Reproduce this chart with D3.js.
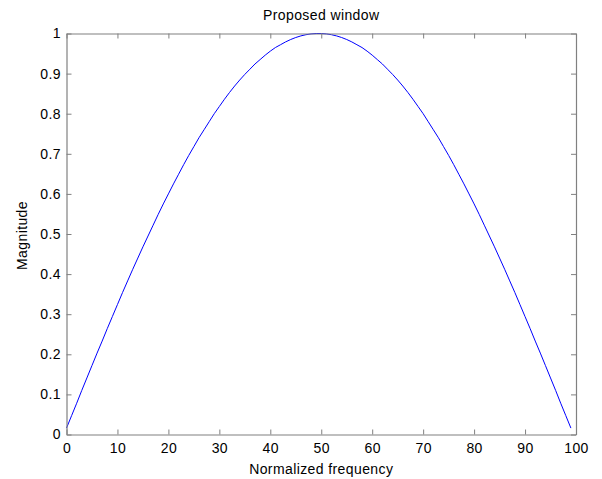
<!DOCTYPE html>
<html>
<head>
<meta charset="utf-8">
<script src="https://cdn.jsdelivr.net/npm/d3@7"></script>
<style>
  html, body { margin: 0; padding: 0; background: #fff; }
  svg { display: block; }
  text { font-family: "Liberation Sans", Arial, sans-serif; fill: #000; letter-spacing: 0.4px; }
</style>
</head>
<body>
<svg id="chart" width="602" height="479"></svg>
<script>
// Sample index (0..99) and window magnitude at each sample
const sampleIndex = Array.from({ length: 100 }, (_, i) => i);
const magnitude = [
  0.016, 0.047, 0.078, 0.110, 0.141, 0.172, 0.203, 0.233, 0.264, 0.294,
  0.324, 0.354, 0.383, 0.412, 0.440, 0.468, 0.495, 0.522, 0.549, 0.575,
  0.600, 0.625, 0.649, 0.673, 0.696, 0.718, 0.740, 0.760, 0.780, 0.800,
  0.818, 0.836, 0.853, 0.869, 0.884, 0.898, 0.911, 0.924, 0.935, 0.946,
  0.956, 0.965, 0.972, 0.979, 0.985, 0.990, 0.994, 0.997, 0.999, 1.000,
  1.000, 0.999, 0.997, 0.994, 0.990, 0.985, 0.979, 0.972, 0.965, 0.956,
  0.946, 0.935, 0.924, 0.911, 0.898, 0.884, 0.869, 0.853, 0.836, 0.818,
  0.800, 0.780, 0.760, 0.740, 0.718, 0.696, 0.673, 0.649, 0.625, 0.600,
  0.575, 0.549, 0.522, 0.495, 0.468, 0.440, 0.412, 0.383, 0.354, 0.324,
  0.294, 0.264, 0.233, 0.203, 0.172, 0.141, 0.110, 0.078, 0.047, 0.016
];
const xTicks = [0, 10, 20, 30, 40, 50, 60, 70, 80, 90, 100];
const yTicks = [0, 0.1, 0.2, 0.3, 0.4, 0.5, 0.6, 0.7, 0.8, 0.9, 1];

const titleText = "Proposed window";
const xLabelText = "Normalized frequency";
const yLabelText = "Magnitude";

const svg = d3.select("#chart");
const plot = { left: 66.5, right: 576, top: 33.5, bottom: 434.5 };
const frameColor = "#808080";
const fontSize = 14;

const x = d3.scaleLinear().domain([0, 100]).range([plot.left, plot.right]);
const y = d3.scaleLinear().domain([0, 1]).range([plot.bottom, plot.top]);

// Curve
const line = d3.line()
  .x((d, i) => x(sampleIndex[i]))
  .y(d => y(d));

svg.append("path")
  .datum(magnitude)
  .attr("d", line)
  .attr("fill", "none")
  .attr("stroke", "#0000ff")
  .attr("stroke-width", 1);

// Axes: bottom/left with labels, top/right ticks only; ticks point inward
function styleAxis(g) {
  g.selectAll("path.domain").attr("stroke", frameColor).attr("stroke-width", 1.2);
  g.selectAll(".tick line").attr("stroke", frameColor);
  g.selectAll(".tick text")
    .attr("font-size", fontSize)
    .attr("font-family", "'Liberation Sans', Arial, sans-serif")
    .attr("fill", "#000");
}

svg.append("g")
  .attr("transform", `translate(0,${plot.bottom})`)
  .call(d3.axisBottom(x).tickValues(xTicks).tickFormat(d3.format("d"))
    .tickSizeInner(-5).tickSizeOuter(0).tickPadding(8.5))
  .call(styleAxis);

svg.append("g")
  .attr("transform", `translate(0,${plot.top})`)
  .call(d3.axisTop(x).tickValues(xTicks).tickFormat("")
    .tickSizeInner(-5).tickSizeOuter(0))
  .call(styleAxis);

svg.append("g")
  .attr("transform", `translate(${plot.left},0)`)
  .call(d3.axisLeft(y).tickValues(yTicks).tickFormat(d => String(+d.toFixed(1)))
    .tickSizeInner(-5).tickSizeOuter(0).tickPadding(5.5))
  .call(styleAxis);

svg.append("g")
  .attr("transform", `translate(${plot.right},0)`)
  .call(d3.axisRight(y).tickValues(yTicks).tickFormat("")
    .tickSizeInner(-5).tickSizeOuter(0))
  .call(styleAxis);

// Title and axis labels
svg.append("text")
  .attr("x", (plot.left + plot.right) / 2)
  .attr("y", 19.5)
  .attr("text-anchor", "middle")
  .attr("font-size", fontSize)
  .text(titleText);

svg.append("text")
  .attr("x", (plot.left + plot.right) / 2)
  .attr("y", 473.5)
  .attr("text-anchor", "middle")
  .attr("font-size", fontSize)
  .text(xLabelText);

svg.append("text")
  .attr("transform", `translate(27,${(plot.top + plot.bottom) / 2 + 1.5}) rotate(-90)`)
  .attr("text-anchor", "middle")
  .attr("font-size", fontSize)
  .text(yLabelText);
</script>
</body>
</html>
